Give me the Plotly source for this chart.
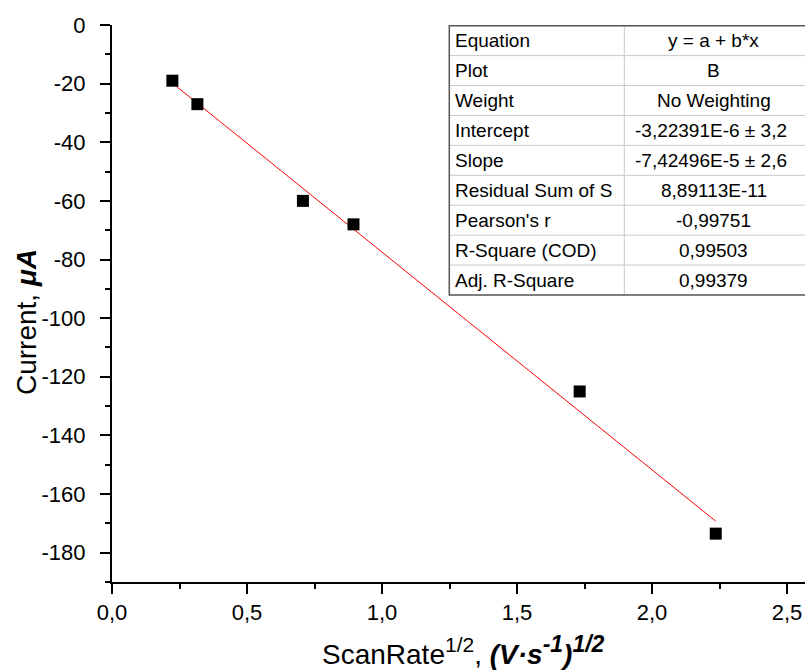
import plotly.graph_objects as go

# ---- data ----
scan_rate_sqrt = [0.2236, 0.3162, 0.7071, 0.8944, 1.7321, 2.2361]
current_uA = [-19.0, -27.0, -60.0, -68.0, -125.0, -173.5]
fit_intercept = -3.22391e-6   # A
fit_slope = -7.42496e-5       # A per (V/s)^1/2

x_tick_vals = [0.0, 0.5, 1.0, 1.5, 2.0, 2.5]
x_tick_text = ["0,0", "0,5", "1,0", "1,5", "2,0", "2,5"]
y_tick_vals = [0, -20, -40, -60, -80, -100, -120, -140, -160, -180]
y_tick_text = ["0", "-20", "-40", "-60", "-80", "-100", "-120", "-140", "-160", "-180"]

table_labels = ["Equation", "Plot", "Weight", "Intercept", "Slope",
                "Residual Sum of S", "Pearson's r", "R-Square (COD)", "Adj. R-Square"]
table_values = ["y = a + b*x", "B", "No Weighting", "-3,22391E-6 ± 3,2",
                "-7,42496E-5 ± 2,6", "8,89113E-11", "-0,99751", "0,99503", "0,99379"]
table_values_left = [False, False, False, True, True, False, False, False, False]

# ---- layout geometry (pixels) ----
W, H = 805, 672
ML, MR, MT, MB = 112, 0, 25, 90
PW, PH = W - ML - MR, H - MT - MB
X_MAX = PW / 270.0


def px(x):
    return (x - ML) / PW


def py(y):
    return 1 - (y - MT) / PH


FONT = "Liberation Sans, Arial, sans-serif"

fit_x = [scan_rate_sqrt[0], scan_rate_sqrt[-1]]
fit_y = [(fit_intercept + fit_slope * v) * 1e6 for v in fit_x]

fig = go.Figure()
fig.add_trace(go.Scatter(x=fit_x, y=fit_y, mode="lines",
                         line=dict(color="#ff0000", width=1), showlegend=False))
fig.add_trace(go.Scatter(x=scan_rate_sqrt, y=current_uA, mode="markers",
                         marker=dict(symbol="square", size=12, color="black",
                                     line=dict(width=0)),
                         showlegend=False))

shapes = []
annotations = []

# table
T_LEFT, T_TOP, T_DIV, T_RIGHT = 449.3, 25.7, 624.3, 806
ROW_H = 29.92
n = len(table_labels)
T_BOT = T_TOP + n * ROW_H
for i in range(1, n):
    yy = T_TOP + i * ROW_H
    shapes.append(dict(type="line", xref="paper", yref="paper",
                       x0=px(T_LEFT), x1=px(T_RIGHT), y0=py(yy), y1=py(yy),
                       line=dict(color="#c8c8c8", width=1)))
shapes.append(dict(type="line", xref="paper", yref="paper",
                   x0=px(T_DIV), x1=px(T_DIV), y0=py(T_TOP), y1=py(T_BOT),
                   line=dict(color="#c8c8c8", width=1)))
shapes.append(dict(type="rect", xref="paper", yref="paper",
                   x0=px(T_LEFT), x1=px(T_RIGHT), y0=py(T_BOT), y1=py(T_TOP),
                   line=dict(color="#555555", width=1.5)))
for i in range(n):
    yc = T_TOP + (i + 0.5) * ROW_H
    annotations.append(dict(xref="paper", yref="paper", x=px(T_LEFT + 4), y=py(yc),
                            text=table_labels[i], showarrow=False, xanchor="left",
                            yanchor="middle", font=dict(family=FONT, size=19, color="black")))
    if table_values_left[i]:
        annotations.append(dict(xref="paper", yref="paper", x=px(633), y=py(yc),
                                text=table_values[i], showarrow=False, xanchor="left",
                                yanchor="middle", font=dict(family=FONT, size=19, color="black")))
    else:
        annotations.append(dict(xref="paper", yref="paper", x=px(713.5), y=py(yc),
                                text=table_values[i], showarrow=False, xanchor="center",
                                yanchor="middle", font=dict(family=FONT, size=19, color="black")))

# axis titles
SUP = '<span style="font-size:21px">'
BSUP = '<span style="font-size:23px">'
annotations.append(dict(xref="paper", yref="paper", x=px(320), y=py(650),
                        text=("ScanRate<sup>" + SUP + "1/2</span></sup>, <b><i>(V·s<sup>"
                              + BSUP + "-1</span></sup>)<sup>" + BSUP + "1/2</span></sup></i></b>"),
                        showarrow=False, xanchor="left", yanchor="middle",
                        font=dict(family=FONT, size=28, color="black")))
annotations.append(dict(xref="paper", yref="paper", x=px(26), y=py(322),
                        text="Current, <b><i>μA</i></b>", textangle=-90,
                        showarrow=False, xanchor="center", yanchor="middle",
                        font=dict(family=FONT, size=28, color="black")))

axis_common = dict(showline=True, linecolor="black", linewidth=2, mirror=False,
                   showgrid=False, zeroline=False, ticks="outside", ticklen=10,
                   tickwidth=1.5, tickcolor="black",
                   tickfont=dict(family=FONT, size=22, color="black"))

fig.update_layout(
    width=W, height=H,
    margin=dict(l=ML, r=MR, t=MT, b=MB),
    paper_bgcolor="white", plot_bgcolor="white",
    shapes=shapes, annotations=annotations,
    xaxis=dict(range=[0, X_MAX], tickmode="array", tickvals=x_tick_vals,
               ticktext=x_tick_text, ticklabelstandoff=0,
               minor=dict(ticks="outside", ticklen=5, tickwidth=1.5, tickcolor="black",
                          dtick=0.25, tick0=0), **axis_common),
    yaxis=dict(range=[-190, 0], tickmode="array", tickvals=y_tick_vals,
               ticktext=y_tick_text, ticklabelstandoff=10,
               minor=dict(ticks="outside", ticklen=5, tickwidth=1.5, tickcolor="black",
                          dtick=10, tick0=0), **axis_common),
)

fig.write_html("out.html")
